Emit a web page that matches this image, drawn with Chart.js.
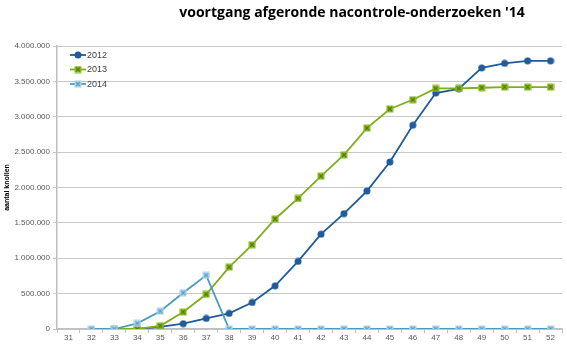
<!DOCTYPE html>
<html>
<head>
<meta charset="utf-8">
<script src="https://cdn.jsdelivr.net/npm/chart.js@4"></script>
<style>
  html, body { margin: 0; padding: 0; background: #fff; }
  #wrap { width: 567px; height: 347px; position: relative; }
</style>
</head>
<body>
<div id="wrap"><canvas id="chart"></canvas></div>
<script>
const chartTitle = "voortgang afgeronde nacontrole-onderzoeken '14";
const yTitle = 'aantal knollen';
const weeks = ['31','32','33','34','35','36','37','38','39','40','41','42','43','44','45','46','47','48','49','50','51','52'];
const v2012 = [null, null, null, 0, 30000, 75000, 150000, 220000, 375000, 610000, 955000, 1340000, 1630000, 1950000, 2360000, 2880000, 3335000, 3395000, 3690000, 3755000, 3790000, 3790000];
const v2013 = [null, null, 0, 0, 45000, 240000, 490000, 875000, 1190000, 1555000, 1845000, 2160000, 2460000, 2840000, 3110000, 3240000, 3400000, 3400000, 3410000, 3420000, 3420000, 3420000];
const v2014 = [null, 0, 0, 80000, 250000, 512000, 758000, 0, 0, 0, 0, 0, 0, 0, 0, 0, 0, 0, 0, 0, 0, 0];

// marker pictures like the Excel ones
function marker(kind, fill, stroke) {
    const c = document.createElement('canvas');
    c.width = 8; c.height = 8;
    const g = c.getContext('2d');
    if (kind === 'circle') {
        g.fillStyle = fill;
        g.beginPath();
        g.arc(4, 4, 3.5, 0, Math.PI * 2);
        g.fill();
    } else {
        g.fillStyle = fill;
        g.fillRect(0.5, 0.5, 7, 7);
        g.strokeStyle = stroke;
        g.lineWidth = 1.1;
        g.beginPath();
        g.moveTo(2, 2); g.lineTo(6, 6);
        g.moveTo(6, 2); g.lineTo(2, 6);
        g.stroke();
    }
    return c;
}

const m2012 = marker('circle', '#1f5c99');
const m2013 = marker('rect', '#8dbb24', '#4f7a10');
const m2014 = marker('rect', '#a9d3ea', '#5a9fc2');

const dots = n => n.toString().replace(/\B(?=(\d{3})+(?!\d))/g, '.');

const extras = {
    id: 'extras',
    afterDraw(chart) {
        const ctx = chart.ctx;
        ctx.save();
        // title
        ctx.fillStyle = '#000';
        ctx.font = 'bold 14px "Open Sans", sans-serif';
        ctx.textAlign = 'center';
        ctx.textBaseline = 'middle';
        ctx.fillText(chartTitle, 352, 13);
        // legend inside the plot
        ctx.font = '9px "Liberation Sans", sans-serif';
        ctx.textAlign = 'left';
        chart.data.datasets.forEach((ds, i) => {
            const y = 55 + i * 14.5;
            ctx.strokeStyle = ds.borderColor;
            ctx.lineWidth = 1.8;
            ctx.beginPath();
            ctx.moveTo(70, y); ctx.lineTo(86, y);
            ctx.stroke();
            ctx.drawImage(ds.pointStyle, 78 - 4, y - 4);
            ctx.fillStyle = '#404040';
            ctx.fillText(ds.label, 87, y + 0.5);
        });
        ctx.restore();
    }
};

new Chart(document.getElementById('chart'), {
    type: 'line',
    data: {
        labels: weeks,
        datasets: [
            { label: '2012', data: v2012, borderColor: '#1f5c99', pointStyle: m2012, order: 3 },
            { label: '2013', data: v2013, borderColor: '#7fae1b', pointStyle: m2013, order: 2 },
            { label: '2014', data: v2014, borderColor: '#4a9cbd', pointStyle: m2014, order: 1 }
        ]
    },
    options: {
        responsive: true,
        maintainAspectRatio: false,
        animation: false,
        layout: { padding: { top: 46, right: 0, left: 0, bottom: 0 } },
        elements: {
            line: { borderWidth: 1.8, tension: 0, fill: false },
            point: { radius: 4 }
        },
        plugins: {
            legend: { display: false },
            tooltip: { enabled: false }
        },
        scales: {
            x: {
                offset: true,
                grid: { display: true, drawOnChartArea: false, drawTicks: true, tickLength: 4, color: '#bfbfbf', offset: true },
                border: { color: '#bfbfbf', width: 1.5 },
                ticks: { color: '#595959', font: { size: 8, family: '"Liberation Sans", sans-serif' }, padding: 0, maxRotation: 0, autoSkip: false },
                afterFit: s => { s.height = 18; }
            },
            y: {
                min: 0,
                max: 4000000,
                ticks: {
                    stepSize: 500000,
                    color: '#595959',
                    font: { size: 8, family: '"Liberation Sans", sans-serif' },
                    padding: 3,
                    callback: v => dots(v)
                },
                grid: { color: '#c8c8c8', lineWidth: 1, tickLength: 4 },
                border: { color: '#bfbfbf', width: 1.5 },
                title: {
                    display: true,
                    text: yTitle,
                    color: '#000',
                    font: { size: 7, weight: 'bold', family: '"Liberation Sans", sans-serif' },
                    padding: { top: 3, bottom: 0 }
                },
                afterFit: s => { s.width = 57; }
            }
        }
    },
    plugins: [extras]
});
</script>
</body>
</html>
